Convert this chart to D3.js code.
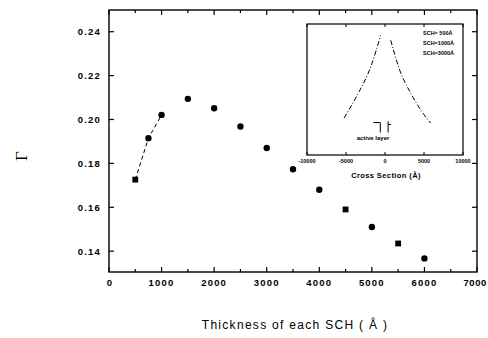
<!DOCTYPE html>
<html>
<head>
<meta charset="utf-8">
<script src="https://cdn.jsdelivr.net/npm/d3@7"></script>
<style>
  body { margin: 0; background: #fff; }
  svg { display: block; }
  text { font-family: "Liberation Sans", Arial, sans-serif; fill: #000; }
</style>
</head>
<body>
<div id="chart"></div>
<script>
// main plot data : thickness of each SCH vs confinement factor
const thickness = [500, 750, 1000, 1500, 2000, 2500, 3000, 3500, 4000, 4500, 5000, 5500, 6000];
const gamma = [0.1726, 0.1915, 0.2021, 0.2094, 0.2051, 0.1968, 0.1870, 0.1773, 0.1680, 0.1590, 0.1510, 0.1435, 0.1367];
const markerShape = ["square", "circle", "circle", "circle", "circle", "circle", "circle", "circle", "circle", "square", "circle", "square", "circle"];
const dashedThickness = [500, 750, 1000];
const dashedGamma = [0.1726, 0.1915, 0.2021];
const xTicks = [0, 1000, 2000, 3000, 4000, 5000, 6000, 7000];
const yTicks = [0.14, 0.16, 0.18, 0.20, 0.22, 0.24];

// inset : field profile across the cross section
const insetLeftX = [-5256, -4397, -3333, -1833, -551];
const insetLeftY = [0.296, 0.386, 0.506, 0.706, 0.96];
const insetRightX = [731, 1795, 3295, 4744, 5859];
const insetRightY = [0.92, 0.696, 0.496, 0.346, 0.256];
const insetTicks = [-10000, -5000, 0, 5000, 10000];
const insetLegend = ["SCH= 500Å", "SCH=1000Å", "SCH=3000Å"];

const W = 488, H = 338;
const plot = {left: 109, top: 10, right: 477, bottom: 272};

const svg = d3.select("#chart")
  .append("svg")
  .attr("width", W)
  .attr("height", H);

const x = d3.scaleLinear().domain([0, 7000]).range([plot.left, plot.right]);
const y = d3.scaleLinear().domain([0.1305, 0.2499]).range([plot.bottom, plot.top]);

// frame
svg.append("rect")
  .attr("x", plot.left).attr("y", plot.top)
  .attr("width", plot.right - plot.left).attr("height", plot.bottom - plot.top)
  .attr("fill", "none").attr("stroke", "#000").attr("stroke-width", 1.4);

// x ticks (inward, bottom and top, with minor ticks)
const xMinor = d3.range(500, 7000, 1000);
const tickG = svg.append("g").attr("stroke", "#000").attr("stroke-width", 1.2);
xTicks.forEach(t => {
  tickG.append("line").attr("x1", x(t)).attr("x2", x(t)).attr("y1", plot.bottom).attr("y2", plot.bottom - 5);
  tickG.append("line").attr("x1", x(t)).attr("x2", x(t)).attr("y1", plot.top).attr("y2", plot.top + 5);
});
xMinor.forEach(t => {
  tickG.append("line").attr("x1", x(t)).attr("x2", x(t)).attr("y1", plot.bottom).attr("y2", plot.bottom - 3);
  tickG.append("line").attr("x1", x(t)).attr("x2", x(t)).attr("y1", plot.top).attr("y2", plot.top + 3);
});
yTicks.forEach(t => {
  tickG.append("line").attr("x1", plot.left).attr("x2", plot.left + 5).attr("y1", y(t)).attr("y2", y(t));
  tickG.append("line").attr("x1", plot.right).attr("x2", plot.right - 5).attr("y1", y(t)).attr("y2", y(t));
});

// tick labels (last one pushed in so it stays on the page)
svg.append("g").selectAll("text")
  .data(xTicks)
  .join("text")
  .attr("x", d => d === 7000 ? 487 : x(d) + (d === 0 ? 1 : 0))
  .attr("y", 286)
  .attr("text-anchor", d => d === 7000 ? "end" : "middle")
  .attr("font-size", 9.5)
  .attr("font-weight", "bold")
  .attr("letter-spacing", d => d === 7000 ? 0.6 : 1.2)
  .text(d => d);

svg.append("g").selectAll("text")
  .data(yTicks)
  .join("text")
  .attr("x", 101)
  .attr("y", d => y(d) + 3.5)
  .attr("text-anchor", "end")
  .attr("font-size", 9.5)
  .attr("font-weight", "bold")
  .attr("letter-spacing", 1.2)
  .text(d => d3.format(".2f")(d));

// axis titles
svg.append("text")
  .attr("x", 295).attr("y", 329)
  .attr("text-anchor", "middle")
  .attr("font-size", 12)
  .attr("letter-spacing", 1.3)
  .text("Thickness of each SCH ( Å )");

svg.append("text")
  .attr("transform", "translate(27,156) rotate(-90)")
  .attr("text-anchor", "middle")
  .style("font-family", "'Liberation Serif', 'DejaVu Serif', serif")
  .attr("font-size", 17)
  .text("Γ");

// dashed guide line
const pts = dashedThickness.map((d, i) => [x(d), y(dashedGamma[i])]);
svg.append("path")
  .attr("d", d3.line()(pts))
  .attr("fill", "none").attr("stroke", "#000").attr("stroke-width", 1)
  .attr("stroke-dasharray", "4,3");

// markers
const data = thickness.map((d, i) => ({t: d, g: gamma[i], s: markerShape[i]}));
svg.append("g").selectAll("path")
  .data(data)
  .join("path")
  .attr("transform", d => `translate(${x(d.t)},${y(d.g)})`)
  .attr("d", d => d3.symbol().type(d.s === "square" ? d3.symbolSquare : d3.symbolCircle).size(d.s === "square" ? 34 : 32)())
  .attr("fill", "#000");

// ---- inset ----
const inset = {left: 307, top: 24, right: 463, bottom: 155};
const ix = d3.scaleLinear().domain([-10000, 10000]).range([inset.left, inset.right]);
const iy = d3.scaleLinear().domain([0, 1.05]).range([inset.bottom, inset.top]);
const ig = svg.append("g");

ig.append("rect")
  .attr("x", inset.left).attr("y", inset.top)
  .attr("width", inset.right - inset.left).attr("height", inset.bottom - inset.top)
  .attr("fill", "#fff").attr("stroke", "#000").attr("stroke-width", 1.2);

insetTicks.forEach(t => {
  ig.append("line").attr("x1", ix(t)).attr("x2", ix(t)).attr("y1", inset.bottom).attr("y2", inset.bottom - 3)
    .attr("stroke", "#000");
  ig.append("line").attr("x1", ix(t)).attr("x2", ix(t)).attr("y1", inset.top).attr("y2", inset.top + 3)
    .attr("stroke", "#000");
});

ig.selectAll("text.itick")
  .data(insetTicks)
  .join("text")
  .attr("class", "itick")
  .attr("x", d => ix(d))
  .attr("y", 163)
  .attr("text-anchor", "middle")
  .attr("font-size", 5.5)
  .attr("font-weight", "bold")
  .text(d => d);

ig.append("text")
  .attr("x", 386).attr("y", 178)
  .attr("text-anchor", "middle")
  .attr("font-size", 7.5)
  .attr("font-weight", "bold")
  .attr("letter-spacing", 0.4)
  .text("Cross Section (Å)");

const iline = d3.line().x(d => ix(d[0])).y(d => iy(d[1])).curve(d3.curveMonotoneX);
[[insetLeftX, insetLeftY], [insetRightX, insetRightY]].forEach(([xs, ys]) => {
  ig.append("path")
    .attr("d", iline(xs.map((v, i) => [v, ys[i]])))
    .attr("fill", "none").attr("stroke", "#000").attr("stroke-width", 1)
    .attr("stroke-dasharray", "5,2,1,2");
});

ig.selectAll("text.leg")
  .data(insetLegend)
  .join("text")
  .attr("class", "leg")
  .attr("x", 423)
  .attr("y", (d, i) => 35 + i * 10)
  .attr("font-size", 5.5)
  .attr("font-weight", "bold")
  .text(d => d);

// active layer bracket
const aL = -600, aR = 400;
ig.append("path")
  .attr("d", `M${ix(aL) - 7},${iy(0.26)} H${ix(aL)} V${iy(0.18)}`)
  .attr("fill", "none").attr("stroke", "#000").attr("stroke-width", 1);
ig.append("path")
  .attr("d", `M${ix(aR)},${iy(0.18)} V${iy(0.27)} M${ix(aR)},${iy(0.245)} H${ix(aR) + 3}`)
  .attr("fill", "none").attr("stroke", "#000").attr("stroke-width", 1);
ig.append("text")
  .attr("x", 373).attr("y", 140)
  .attr("text-anchor", "middle")
  .attr("font-size", 6)
  .attr("font-weight", "bold")
  .text("active layer");
</script>
</body>
</html>
